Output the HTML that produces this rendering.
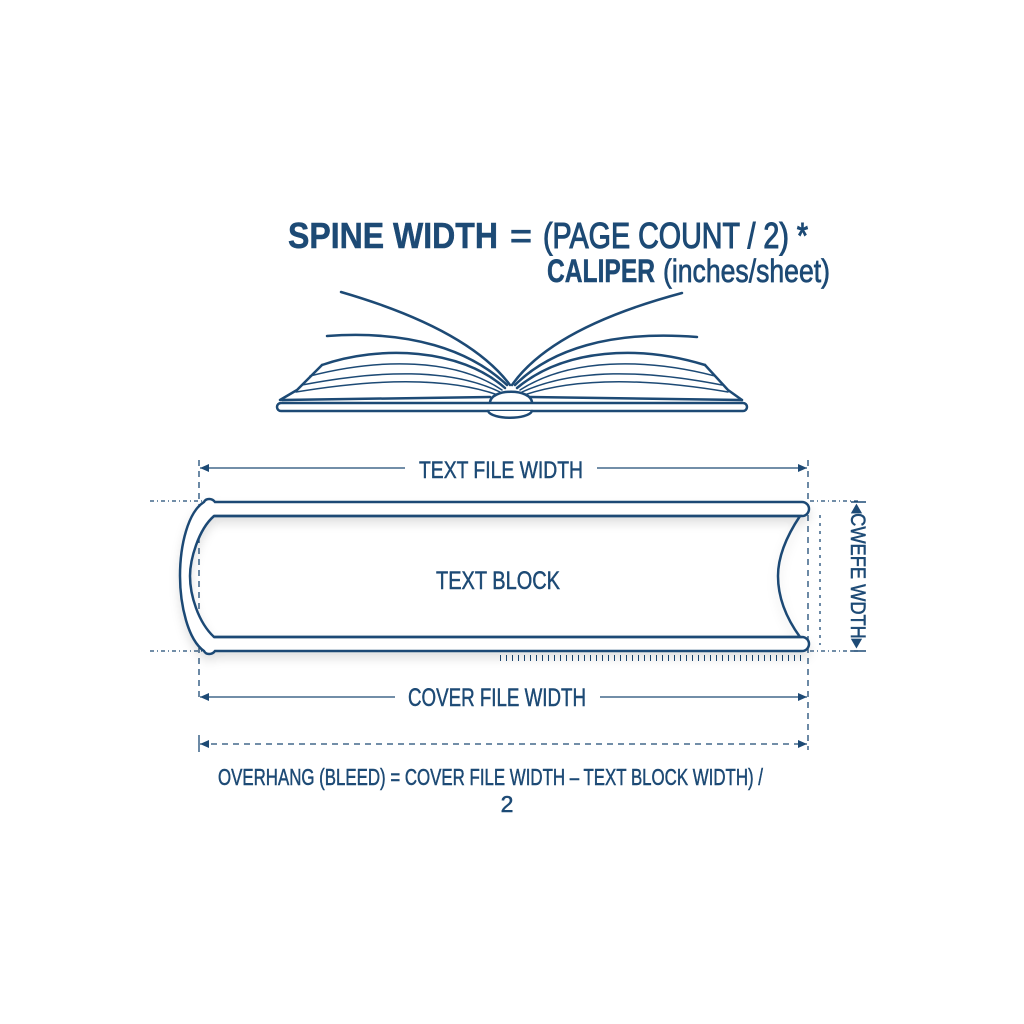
<!DOCTYPE html>
<html><head><meta charset="utf-8"><style>
html,body{margin:0;padding:0;background:#fff;}
svg{display:block;}
text{font-family:"Liberation Sans Narrow","Liberation Sans",sans-serif;fill:#1d4a75;stroke:#1d4a75;stroke-width:0.5;}
</style></head><body>
<svg width="1024" height="1024" viewBox="0 0 1024 1024" xmlns="http://www.w3.org/2000/svg">
<defs>
<marker id="a" markerWidth="10" markerHeight="10" refX="9" refY="5" orient="auto-start-reverse" markerUnits="userSpaceOnUse"><path d="M0,1 L9,5 L0,9 z" fill="#1d4a75"/></marker>
<filter id="sh" x="-10%" y="-20%" width="120%" height="150%"><feDropShadow dx="0" dy="6" stdDeviation="5" flood-color="#000" flood-opacity="0.12"/></filter>
</defs>
<rect width="1024" height="1024" fill="#fff"/>

<!-- Title -->
<text x="288" y="248" font-size="36" font-weight="bold" textLength="210" lengthAdjust="spacingAndGlyphs">SPINE WIDTH</text>
<text x="510" y="248" font-size="36" textLength="22" lengthAdjust="spacingAndGlyphs" style="stroke-width:1">=</text>
<text x="543" y="248" font-size="36" textLength="265" lengthAdjust="spacingAndGlyphs" style="stroke-width:1.1">(PAGE COUNT / 2) *</text>
<text x="547" y="282" font-size="32" font-weight="bold" textLength="108" lengthAdjust="spacingAndGlyphs">CALIPER</text>
<text x="663" y="282" font-size="32" textLength="167" lengthAdjust="spacingAndGlyphs" style="stroke-width:0.7">(inches/sheet)</text>

<!-- Open book -->
<g fill="none" stroke="#1d4a75" stroke-width="2.5" stroke-linecap="round" stroke-linejoin="round">
<path d="M341,292 C420,315 480,345 510,385"/>
<path d="M682,293 C600,315 540,345 512,385"/>
<path d="M327,336 C410,330 470,350 507,385"/>
<path d="M697,337 C610,330 550,350 515,385"/>
<path d="M322,365 C380,345 460,348 505,388" />
<path d="M705,365 C640,345 565,348 517,388" />
<path d="M322,365 L297,390 L280,400"/>
<path d="M705,365 L728,390 L742,400"/>
<path d="M302,385 C380,370 450,368 500,392" stroke-width="1.5"/>
<path d="M296,392 C380,378 450,378 498,395" stroke-width="1.5"/>
<path d="M310,376 C380,358 455,358 502,390" stroke-width="1.5"/>
<path d="M722,385 C645,370 575,368 522,392" stroke-width="1.5"/>
<path d="M728,392 C645,378 575,378 524,395" stroke-width="1.5"/>
<path d="M715,376 C645,358 570,358 520,390" stroke-width="1.5"/>
<path d="M282,400 L490,397 M530,397 L742,400"/>
<path d="M490,403 C490,388 532,388 532,403" fill="#fff"/>
<rect x="277" y="403" width="470" height="8" rx="4" fill="#fff"/>
<path d="M488,411 C492,420 528,420 532,411" fill="#fff"/>
</g>

<!-- Text file width -->
<g stroke="#1d4a75" stroke-width="1.3" fill="none">
<line x1="199" y1="460" x2="199" y2="700" stroke-dasharray="6,5"/>
<line x1="808" y1="460" x2="808" y2="750" stroke-dasharray="6,5"/>
<line x1="200" y1="468" x2="405" y2="468" marker-start="url(#a)"/>
<line x1="597" y1="468" x2="807" y2="468" marker-end="url(#a)"/>
<line x1="150" y1="501" x2="205" y2="501" stroke-dasharray="4,3,1,3"/>
<line x1="150" y1="651" x2="205" y2="651" stroke-dasharray="4,3,1,3"/>
<line x1="810" y1="501" x2="860" y2="501" stroke-dasharray="4,3,1,3"/>
<line x1="810" y1="651" x2="860" y2="651" stroke-dasharray="4,3,1,3"/>
<line x1="820" y1="515" x2="820" y2="645" stroke-dasharray="3,5"/>
<line x1="500" y1="658" x2="806" y2="658" stroke-dasharray="1,5" stroke-width="6"/>
</g>
<text x="501" y="478" font-size="24" text-anchor="middle" textLength="164" lengthAdjust="spacingAndGlyphs">TEXT FILE WIDTH</text>

<!-- Text block -->
<g filter="url(#sh)" fill="#fff" stroke="#1d4a75" stroke-width="2.5">
<path d="M215,502 L802,502 A7,7 0 0 1 802,516 L214,516 C198,530 190,560 190,576 C190,595 198,622 214,637 L802,637 A7,7 0 0 1 802,651 L215,651 C212,655 206,655 204,651 C188,640 180,605 180,576 C180,545 188,512 204,502 C206,498 212,498 215,502 Z"/>
<path d="M214,516 L800,516 C784,540 778,560 778,576 C778,594 784,615 800,637 L214,637" fill="none"/>
</g>
<text x="498" y="589" font-size="25" text-anchor="middle" textLength="124" lengthAdjust="spacingAndGlyphs">TEXT BLOCK</text>

<!-- Right vertical -->
<g stroke="#1d4a75" stroke-width="1.5">
<line x1="851" y1="502" x2="866" y2="502"/>
<line x1="851" y1="651" x2="866" y2="651"/>
</g>
<text transform="translate(851,576) rotate(90)" font-size="21" text-anchor="middle" textLength="144" lengthAdjust="spacingAndGlyphs">◂CWEFE WDTH▸</text>

<!-- Cover file width -->
<g stroke="#1d4a75" stroke-width="1.3" fill="none">
<line x1="200" y1="697" x2="395" y2="697" marker-start="url(#a)"/>
<line x1="600" y1="697" x2="807" y2="697" marker-end="url(#a)"/>
<line x1="199" y1="735" x2="199" y2="752"/>
<line x1="200" y1="744" x2="807" y2="744" stroke-dasharray="6,5" marker-start="url(#a)" marker-end="url(#a)"/>
</g>
<text x="497" y="706" font-size="25" text-anchor="middle" textLength="178" lengthAdjust="spacingAndGlyphs">COVER FILE WIDTH</text>
<text x="218" y="785" font-size="23" textLength="545" lengthAdjust="spacingAndGlyphs">OVERHANG (BLEED) = COVER FILE WIDTH – TEXT BLOCK WIDTH) /</text>
<text x="507" y="812" font-size="23" text-anchor="middle">2</text>
</svg>
</body></html>
